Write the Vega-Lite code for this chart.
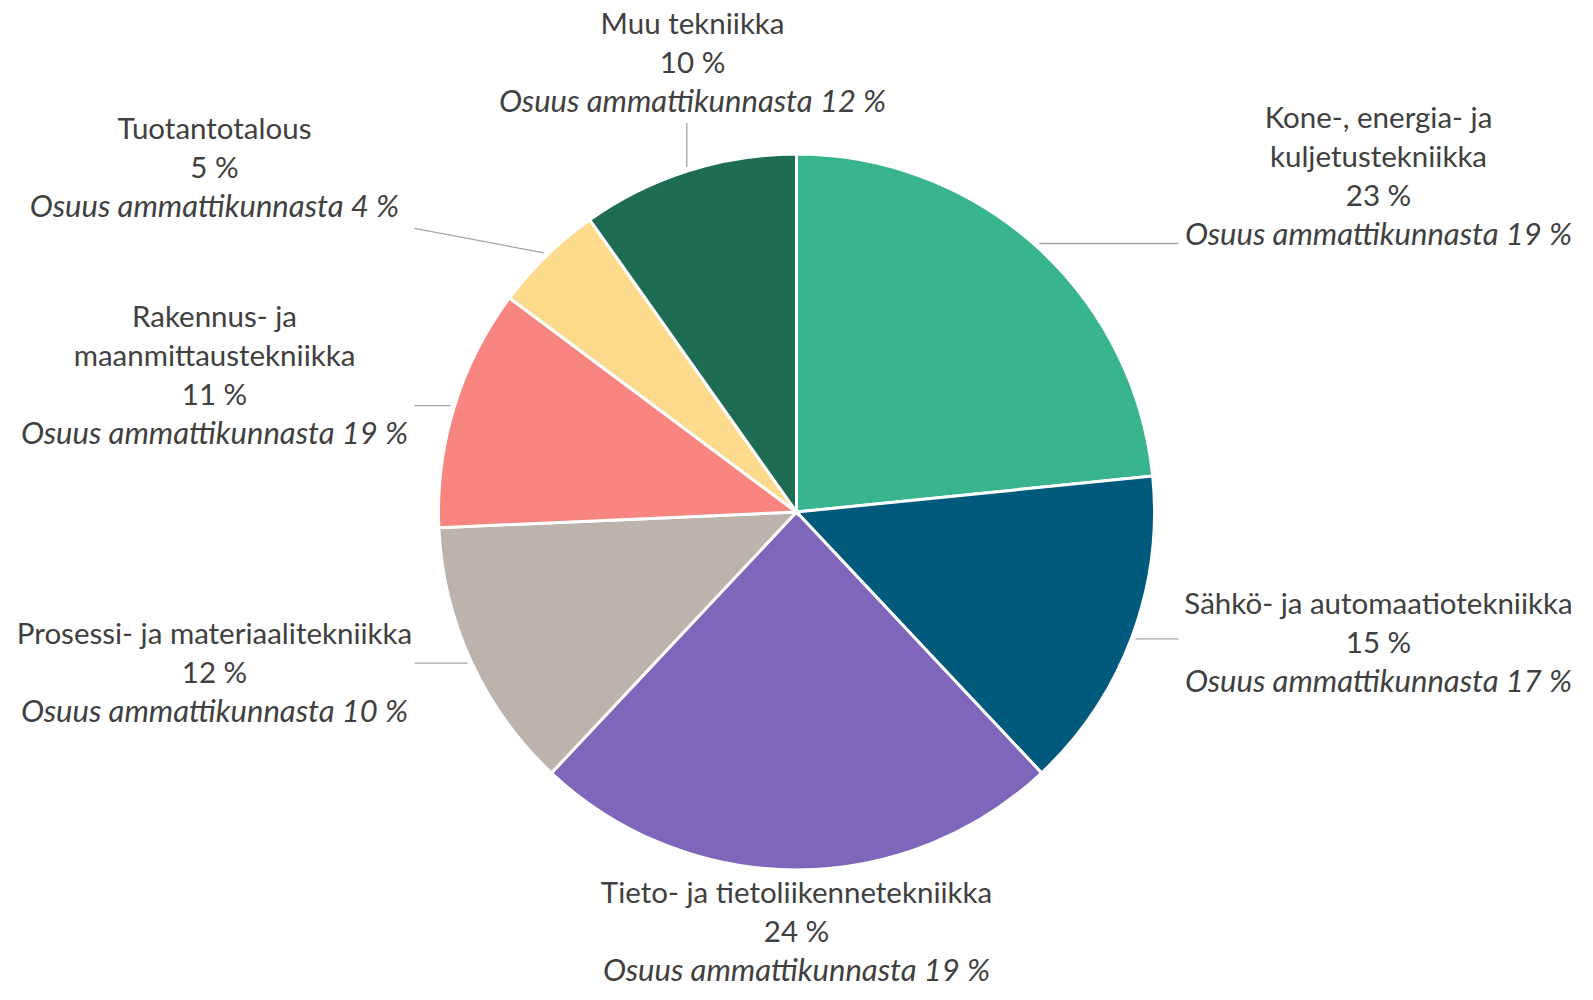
{
  "$schema": "https://vega.github.io/schema/vega-lite/v6.json",
  "width": 1593,
  "height": 1024,
  "autosize": "none",
  "padding": 0,
  "background": "white",
  "config": {
    "view": {"stroke": null},
    "locale": {
      "number": {
        "decimal": ",",
        "thousands": "\u00a0",
        "grouping": [3],
        "currency": ["Osuus ammattikunnasta ", "\u00a0%"],
        "percent": "\u00a0%"
      }
    },
    "text": {"font": "Lato", "fontSize": 29.5, "color": "#404040", "lineHeight": 39, "align": "center", "baseline": "line-top"}
  },
  "data": {
    "values": [
      {"name": "Kone-, energia- ja\nkuljetustekniikka", "share": 0.234, "osuus": 0.19},
      {"name": "Sähkö- ja automaatiotekniikka", "share": 0.146, "osuus": 0.17},
      {"name": "Tieto- ja tietoliikennetekniikka", "share": 0.240, "osuus": 0.19},
      {"name": "Prosessi- ja materiaalitekniikka", "share": 0.123, "osuus": 0.10},
      {"name": "Rakennus- ja\nmaanmittaustekniikka", "share": 0.109, "osuus": 0.19},
      {"name": "Tuotantotalous", "share": 0.050, "osuus": 0.04},
      {"name": "Muu tekniikka", "share": 0.098, "osuus": 0.12}
    ]
  },
  "transform": [
    {"stack": "share", "groupby": [], "offset": "normalize", "as": ["s0", "s1"]}
  ],
  "layer": [
    {
      "mark": {"type": "arc", "radius": 358, "stroke": "white", "strokeWidth": 3},
      "encoding": {
        "theta": {"field": "share", "type": "quantitative", "stack": true},
        "order": {"field": "s0", "type": "quantitative"},
        "color": {
          "field": "name",
          "type": "nominal",
          "legend": null,
          "scale": {
            "domain": [
              "Kone-, energia- ja\nkuljetustekniikka",
              "Sähkö- ja automaatiotekniikka",
              "Tieto- ja tietoliikennetekniikka",
              "Prosessi- ja materiaalitekniikka",
              "Rakennus- ja\nmaanmittaustekniikka",
              "Tuotantotalous",
              "Muu tekniikka"
            ],
            "range": ["#38B58F", "#005A7B", "#7E67BA", "#BDB3AD", "#F98581", "#FDDB8D", "#1F6C55"]
          }
        }
      }
    },
    {
      "mark": {
        "type": "rule",
        "color": "#A6A6A6",
        "strokeWidth": 1.3,
        "strokeOpacity": {"expr": "abs(sin(PI*(datum.s0+datum.s1))) < 0.1 ? 0 : 1"}
      },
      "encoding": {
        "x": {"value": {"expr": "width/2 + 362*sin(PI*(datum.s0+datum.s1))"}},
        "y": {"value": {"expr": "height/2 - 362*cos(PI*(datum.s0+datum.s1))"}},
        "x2": {"value": {"expr": "clamp(width/2 + 362*sin(PI*(datum.s0+datum.s1)), width/2 + (abs(sin(PI*(datum.s0+datum.s1))) > 0.5 ? (sin(PI*(datum.s0+datum.s1)) > 0 ? 582 : -582) : 343*sin(PI*(datum.s0+datum.s1))) - 200, width/2 + (abs(sin(PI*(datum.s0+datum.s1))) > 0.5 ? (sin(PI*(datum.s0+datum.s1)) > 0 ? 582 : -582) : 343*sin(PI*(datum.s0+datum.s1))) + 200)"}},
        "y2": {"value": {"expr": "clamp(height/2 - 362*cos(PI*(datum.s0+datum.s1)), height/2 - 445*cos(PI*(datum.s0+datum.s1)) - 82, height/2 - 445*cos(PI*(datum.s0+datum.s1)) - 82 + 39*(length(split(datum.name, '\\n')) + 2))"}}
      }
    },
    {
      "mark": {
        "type": "text",
        "lineBreak": "\n",
        "x": {"expr": "width/2 + (abs(sin(PI*(datum.s0+datum.s1))) > 0.5 ? (sin(PI*(datum.s0+datum.s1)) > 0 ? 582 : -582) : 343*sin(PI*(datum.s0+datum.s1)))"},
        "y": {"expr": "height/2 - 445*cos(PI*(datum.s0+datum.s1)) - 82"}
      },
      "encoding": {"text": {"field": "name", "type": "nominal"}}
    },
    {
      "mark": {
        "type": "text",
        "x": {"expr": "width/2 + (abs(sin(PI*(datum.s0+datum.s1))) > 0.5 ? (sin(PI*(datum.s0+datum.s1)) > 0 ? 582 : -582) : 343*sin(PI*(datum.s0+datum.s1)))"},
        "y": {"expr": "height/2 - 445*cos(PI*(datum.s0+datum.s1)) - 82 + 39*length(split(datum.name, '\\n'))"}
      },
      "encoding": {"text": {"field": "share", "type": "quantitative", "format": ".0%"}}
    },
    {
      "mark": {
        "type": "text",
        "fontStyle": "italic",
        "fontSize": 31,
        "x": {"expr": "width/2 + (abs(sin(PI*(datum.s0+datum.s1))) > 0.5 ? (sin(PI*(datum.s0+datum.s1)) > 0 ? 582 : -582) : 343*sin(PI*(datum.s0+datum.s1)))"},
        "y": {"expr": "height/2 - 445*cos(PI*(datum.s0+datum.s1)) - 82 + 39*(length(split(datum.name, '\\n')) + 1)"}
      },
      "encoding": {"text": {"field": "osuus", "type": "quantitative", "format": "$.0%"}}
    }
  ]
}
